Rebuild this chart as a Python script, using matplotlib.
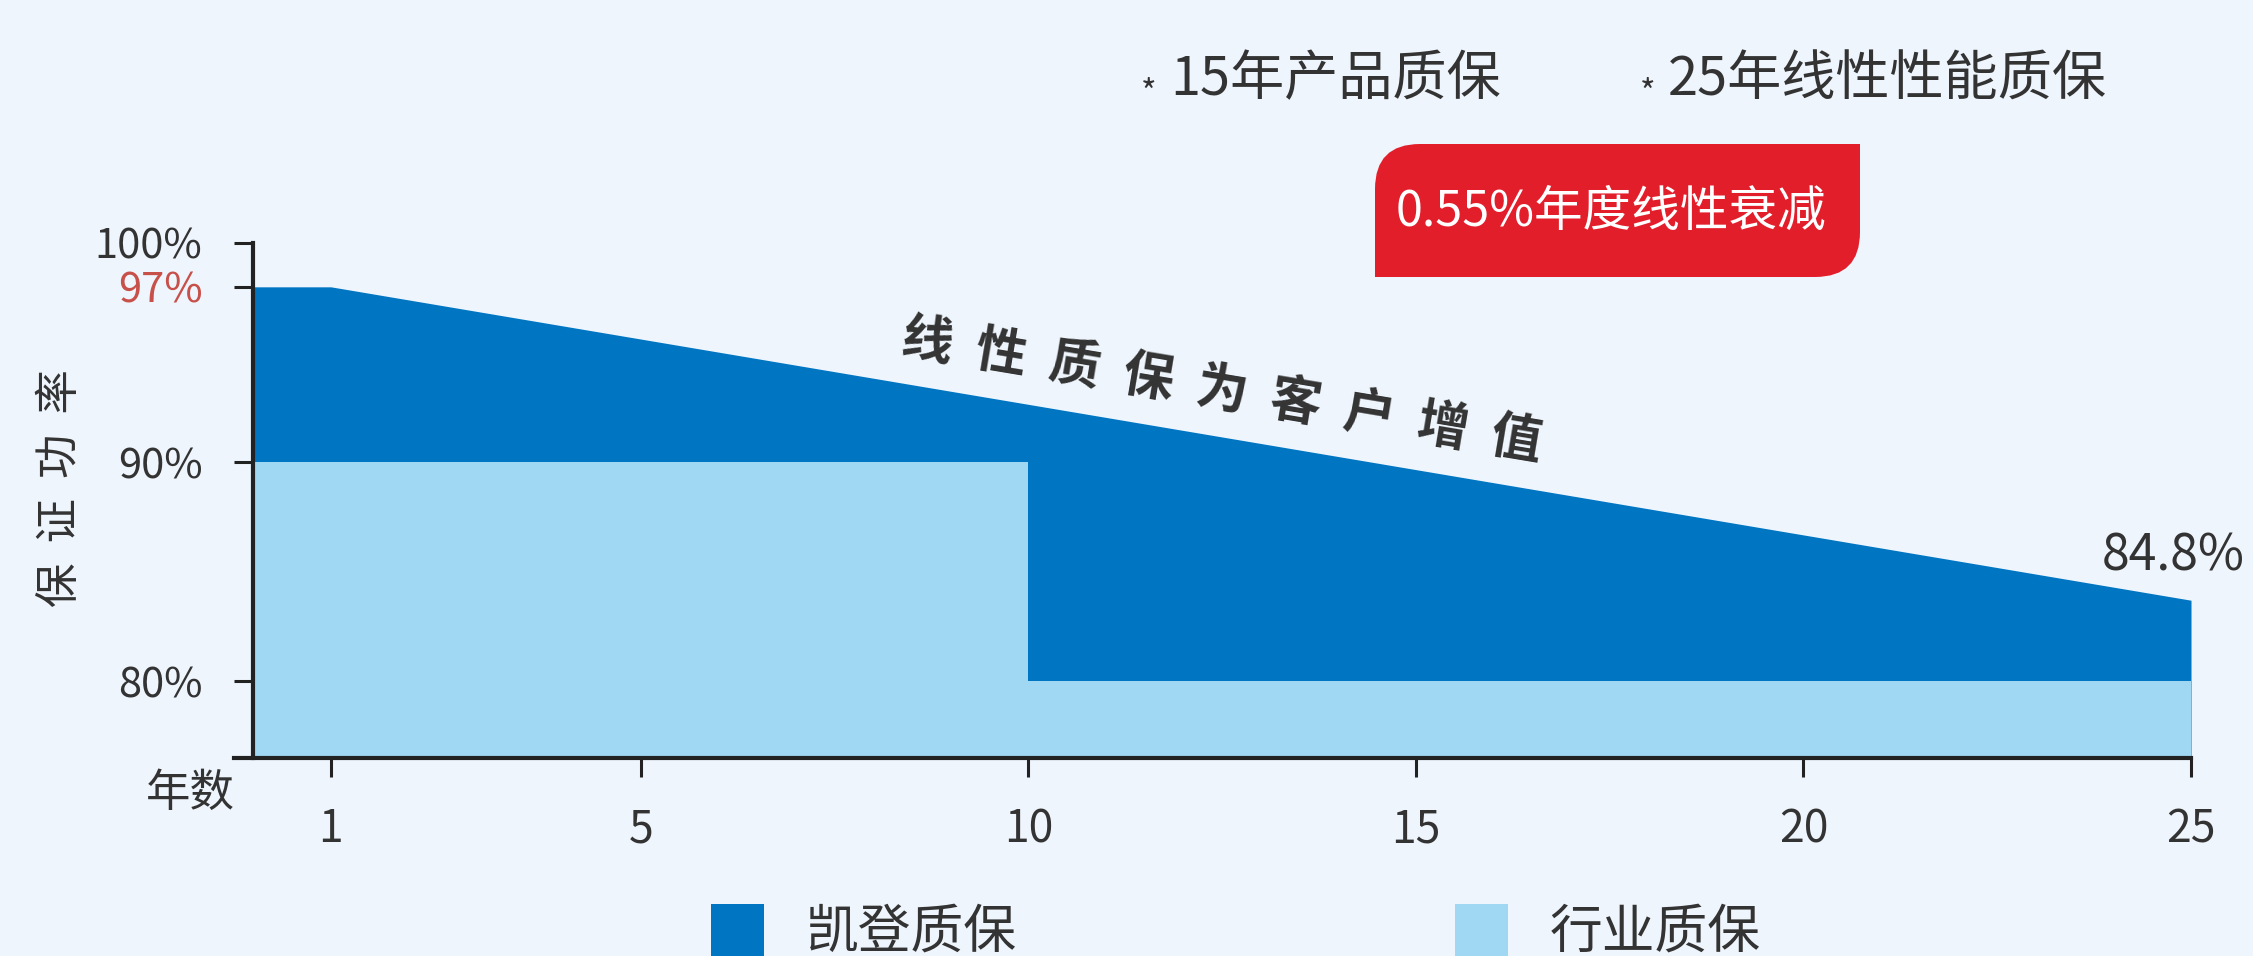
import matplotlib
matplotlib.use("Agg")
import matplotlib.pyplot as plt
from matplotlib.patches import Patch, PathPatch
from matplotlib.path import Path

plt.rcParams['font.family'] = ['Noto Sans CJK SC', 'DejaVu Sans']

# --- dados ---
anos_kd = [0, 1, 25]                  # curva "凯登质保"
kaideng = [98.0, 98.0, 83.7]          # posição desenhada (rótulos: 97% / 84.8%)
anos_ind = [0, 10, 25]                # degraus "行业质保"
industria = [90, 80, 80]
xticks = [1, 5, 10, 15, 20, 25]
ytick_labels = ['80%', '90%', '97%', '100%']
legenda = ['凯登质保', '行业质保']
rotulo_final = '84.8%'

azul_escuro = '#0075c2'
azul_claro = '#a0d8f3'
vermelho = '#e31e2b'
fundo = '#eef5fc'
cinza = '#333333'

W, H = 2253, 956
fig = plt.figure(figsize=(W / 100, H / 100), dpi=100, facecolor=fundo)

# eixo: x de -0.25 (linha do eixo passa um pouco da esquerda) até 25
px_left, px_right, px_top, px_bottom = 234, 2191, 243, 758
ax = fig.add_axes([px_left / W, 1 - px_bottom / H, (px_right - px_left) / W, (px_bottom - px_top) / H])
ax.set_facecolor(fundo)
y_min = 76.5
ax.set_xlim(-0.25, 25)
ax.set_ylim(y_min, 100)

ax.fill_between(anos_kd, y_min, kaideng, color=azul_escuro, lw=0)
ax.fill_between(anos_ind, y_min, industria, step='post', color=azul_claro, lw=0)

for s in ['top', 'right']:
    ax.spines[s].set_visible(False)
ax.spines['left'].set_position(('data', 0))
for s in ['left', 'bottom']:
    ax.spines[s].set_linewidth(3.0)
    ax.spines[s].set_color('#222222')

ax.set_xticks(xticks)
ax.set_xticklabels([str(t) for t in xticks])
ax.set_yticks([80, 90, kaideng[0], 100])
ax.set_yticklabels(ytick_labels)
ax.tick_params(axis='both', direction='out', length=13.7, width=2.2, color='#222222', labelcolor=cinza)
ax.tick_params(axis='x', labelsize=32, pad=21)
ax.tick_params(axis='y', labelsize=30, pad=23)
ax.get_yticklabels()[2].set_color('#c8504a')

# texto inclinado sobre a curva
ax.text(12.5, 93.3, '  '.join('线性质保为客户增值'), rotation=-9.5, rotation_mode='anchor',
        ha='center', va='center', fontsize=37, fontweight='bold', color=cinza)

ax.annotate(rotulo_final, (anos_kd[-1], kaideng[-1]), xytext=(54, 30), textcoords='offset pixels',
            ha='right', va='baseline', fontsize=36, color=cinza)

# rótulos dos eixos
fig.text(60 / W, 1 - 488 / H, '  '.join('保证功率'), rotation=90, ha='center', va='center',
         fontsize=32, color=cinza)
fig.text(190 / W, 1 - 793 / H, '年数', ha='center', va='center', fontsize=32, color=cinza)

# textos do topo
fig.text(1149 / W, 1 - 104 / H, '*', ha='center', va='baseline', fontsize=24, color=cinza)
fig.text(1170 / W, 1 - 80 / H, '15年产品质保', ha='left', va='center', fontsize=39, color=cinza)
fig.text(1648 / W, 1 - 104 / H, '*', ha='center', va='baseline', fontsize=24, color=cinza)
fig.text(1668 / W, 1 - 80 / H, '25年线性性能质保', ha='left', va='center', fontsize=39, color=cinza)

# caixa vermelha com cantos arredondados (sup. esq. e inf. dir.)
x0, x1, yt, yb, r = 1375, 1860, 144, 277, 45
pts = [(x0, yb), (x0, yt + r), (x0, yt), (x0 + r, yt), (x1, yt),
       (x1, yb - r), (x1, yb), (x1 - r, yb), (x0, yb)]
codes = [Path.MOVETO, Path.LINETO, Path.CURVE3, Path.CURVE3, Path.LINETO,
         Path.LINETO, Path.CURVE3, Path.CURVE3, Path.CLOSEPOLY]
pts = [(px / W, 1 - py / H) for px, py in pts]
fig.patches.append(PathPatch(Path(pts, codes), facecolor=vermelho, lw=0, transform=fig.transFigure))
fig.text(1611 / W, 1 - 212 / H, '0.55%年度线性衰减', ha='center', va='center', fontsize=35, color='white')

handles = [Patch(facecolor=azul_escuro), Patch(facecolor=azul_claro)]
fig.legend(handles, legenda, loc='center', bbox_to_anchor=(1236 / W, 1 - 932 / H), ncol=2,
           frameon=False, fontsize=38, handlelength=1.0, handleheight=1.15, handletextpad=0.8,
           columnspacing=8.3, labelcolor=cinza)

fig.savefig('out.png', dpi=100, facecolor=fundo)
